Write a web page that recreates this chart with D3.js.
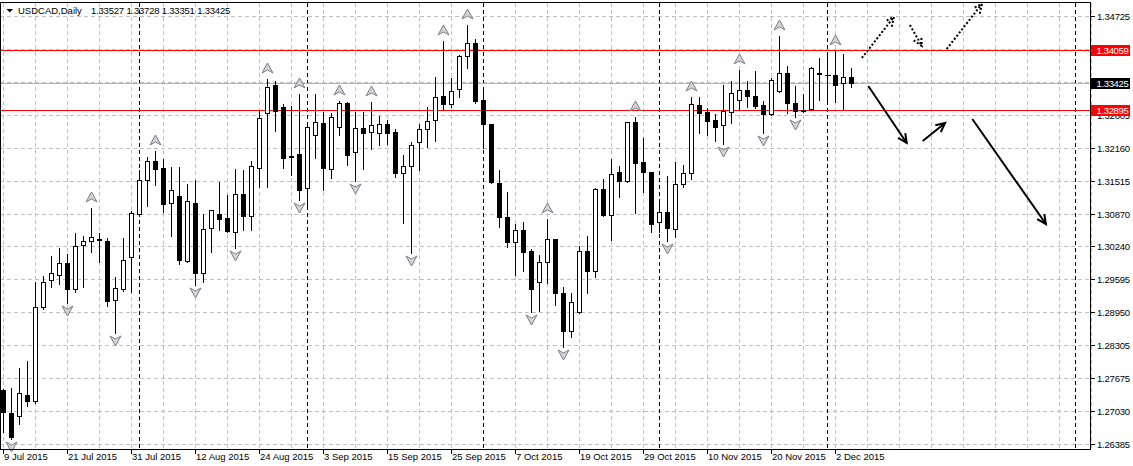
<!DOCTYPE html>
<html><head><meta charset="utf-8">
<script src="https://cdn.jsdelivr.net/npm/d3@7"></script>
<style>
html,body{margin:0;padding:0;background:#fff;}
svg{display:block;}
text{font-family:"Liberation Sans",Arial,sans-serif;font-size:9.5px;fill:#000;}
</style>
</head><body>
<svg id="c" width="1133" height="466"></svg>
<script>
// ---------------- DATA ----------------
const symbolTitle = "USDCAD,Daily";
const open = [1.27437,1.26990,1.26931,1.27340,1.27224,1.29055,1.29581,1.29679,1.29913,1.29406,
1.30263,1.30341,1.30380,1.30341,1.29191,1.29406,1.30030,1.30867,1.31529,1.31899,
1.31763,1.31082,1.31217,1.29951,1.31082,1.29718,1.30594,1.30867,1.30789,1.30516,
1.31256,1.30828,1.31763,1.32835,1.33381,1.32952,1.31997,1.32036,1.31373,1.32406,
1.32640,1.31744,1.32562,1.33030,1.32075,1.32542,1.32464,1.32445,1.32620,1.32464,
1.31666,1.31802,1.32270,1.32523,1.32698,1.33166,1.33010,1.33303,1.33946,1.34199,
1.33088,1.32620,1.31471,1.30809,1.30322,1.30555,1.30146,1.29542,1.29932,1.30380,
1.29328,1.28587,1.28957,1.30146,1.29756,1.31354,1.30848,1.31685,1.31510,1.32659,
1.31880,1.31685,1.30711,1.30906,1.30575,1.31451,1.31666,1.32991,1.32854,1.32698,
1.32601,1.32854,1.33088,1.33283,1.33166,1.32991,1.32815,1.33264,1.33615,1.33030,
1.32884,1.32913,1.33624,1.33576,1.33576,1.33420,1.33527];
const high = [1.27476,1.27496,1.27886,1.28022,1.29562,1.29679,1.30069,1.30225,1.30107,1.30516,
1.30458,1.31004,1.30516,1.30419,1.29659,1.30419,1.30945,1.31744,1.31997,1.32114,
1.31958,1.31802,1.31802,1.31471,1.31549,1.30887,1.30965,1.31510,1.31256,1.31763,
1.31744,1.31919,1.32893,1.33517,1.33478,1.33030,1.32991,1.33225,1.32659,1.33225,
1.32874,1.32854,1.33088,1.33069,1.32874,1.32874,1.33069,1.32796,1.32718,1.32542,
1.32036,1.32289,1.32640,1.32971,1.33556,1.34258,1.33537,1.33985,1.34569,1.34297,
1.33342,1.32640,1.31744,1.31315,1.30692,1.30731,1.30205,1.30088,1.30789,1.30400,
1.29464,1.29347,1.30263,1.30458,1.31393,1.31568,1.31958,1.31822,1.32679,1.32776,
1.32367,1.31705,1.31140,1.31627,1.31899,1.31841,1.33166,1.33166,1.32952,1.32835,
1.33400,1.33478,1.33693,1.33478,1.33673,1.33088,1.33537,1.34355,1.33770,1.33381,
1.33225,1.33751,1.33926,1.34004,1.34063,1.34004,1.33728];
const low = [1.26619,1.26483,1.26775,1.27126,1.27185,1.29016,1.29445,1.29503,1.29133,1.29347,
1.29445,1.30127,1.29932,1.29074,1.28548,1.29367,1.29347,1.30848,1.31023,1.31432,
1.30906,1.30439,1.29893,1.29932,1.29484,1.29542,1.30127,1.30555,1.30517,1.30205,
1.30555,1.30555,1.31393,1.31393,1.32484,1.31763,1.31627,1.31140,1.31004,1.31958,
1.31334,1.31568,1.32406,1.31822,1.31510,1.31744,1.32133,1.32211,1.32231,1.31588,
1.30692,1.30107,1.31724,1.32172,1.32289,1.32893,1.32952,1.33147,1.33712,1.33030,
1.32153,1.31471,1.30614,1.30225,1.29679,1.29756,1.28957,1.28977,1.29523,1.29094,
1.28275,1.28470,1.28938,1.29328,1.29640,1.30828,1.30361,1.31198,1.31490,1.30887,
1.31295,1.30516,1.30516,1.30341,1.30419,1.31393,1.31549,1.32445,1.32406,1.32289,
1.32231,1.32640,1.32893,1.32952,1.32932,1.32445,1.32796,1.33245,1.32835,1.32757,
1.32854,1.32893,1.33088,1.33049,1.33049,1.32893,1.33351];
const close = [1.27009,1.26522,1.27379,1.27224,1.29055,1.29542,1.29718,1.29913,1.29406,1.30244,
1.30341,1.30419,1.30361,1.29172,1.29425,1.29971,1.30887,1.31529,1.31899,1.31744,
1.31062,1.31334,1.29971,1.31121,1.29718,1.30575,1.30945,1.30770,1.30536,1.31256,
1.30828,1.31802,1.32737,1.33342,1.32874,1.31958,1.31968,1.31334,1.32562,1.32659,
1.31763,1.32757,1.33030,1.32016,1.32542,1.32445,1.32601,1.32620,1.32445,1.31666,
1.31802,1.32211,1.32523,1.32679,1.33147,1.33010,1.33264,1.33946,1.34199,1.33069,
1.32620,1.31490,1.30809,1.30322,1.30555,1.30127,1.29406,1.29932,1.30380,1.29328,
1.28587,1.29152,1.30146,1.29756,1.31354,1.30848,1.31646,1.31510,1.32659,1.31860,
1.31685,1.30672,1.30906,1.30594,1.31451,1.31666,1.33010,1.32835,1.32679,1.32562,
1.32874,1.33225,1.33283,1.33166,1.32971,1.32815,1.33478,1.33615,1.33030,1.32874,
1.32874,1.33712,1.33595,1.33566,1.33381,1.33537,1.33425];

// bar index of each date label on the time axis
const dateTickIndex = [0,8,16,24,32,40,48,56,64,72,80,88,96,104];
const dateTickLabels = ["9 Jul 2015","21 Jul 2015","31 Jul 2015","12 Aug 2015","24 Aug 2015","3 Sep 2015",
  "15 Sep 2015","25 Sep 2015","7 Oct 2015","19 Oct 2015","29 Oct 2015","10 Nov 2015","20 Nov 2015","2 Dec 2015"];
// month separators (bar index of first bar of each month)
const monthSeparators = [17,38,60,82,103,134];
// price grid levels and their labels (1.34080 / 1.33440 are hidden under level labels)
const priceGrid = [1.34725,1.34080,1.33440,1.32805,1.32160,1.31515,1.30870,
  1.30240,1.29595,1.28950,1.28305,1.27675,1.27030,1.26385];
const priceTickLabels = ["1.34725","1.32805","1.32160","1.31515","1.30870",
  "1.30240","1.29595","1.28950","1.28305","1.27675","1.27030","1.26385"];
// fractal markers
const fractalUp = [11,19,33,37,42,46,55,58,68,79,86,92,97,104];
const fractalDown = [1,8,14,24,29,37,44,51,66,70,83,90,95,99];
// horizontal levels
const resistance = 1.34059;
const support = 1.32895;
const bid = 1.33425;
// scenario arrows (bar index, price)
const scenarioArrows = [
  {i1:107.3,p1:1.33907,i2:111.3,p2:1.34706,dotted:true},
  {i1:113.3,p1:1.34550,i2:114.8,p2:1.34141,dotted:true},
  {i1:117.9,p1:1.34082,i2:122.3,p2:1.34959,dotted:true},
  {i1:108.1,p1:1.33361,i2:112.9,p2:1.32251,dotted:false},
  {i1:114.9,p1:1.32290,i2:117.7,p2:1.32640,dotted:false},
  {i1:121.1,p1:1.32718,i2:130.3,p2:1.30672,dotted:false}
];

// ---------------- DRAW ----------------
const W = 1133, H = 466;
const R = 1090.5, T = 2.5, B = 449.5;
const svg = d3.select("#c");
svg.append("rect").attr("width", W).attr("height", H).attr("fill", "#fff");

const x = d3.scaleLinear().domain([0, 134]).range([3.5, 1075.5]);
const y = d3.scaleLinear().domain([1.26385, 1.34725]).range([444, 16]);
const py = v => Math.round(y(v)) + 0.5;

const grid = svg.append("g").attr("shape-rendering", "crispEdges");
grid.selectAll("line.hg").data(priceGrid).join("line")
  .attr("x1", 0).attr("x2", R).attr("y1", d => py(d)).attr("y2", d => py(d))
  .attr("stroke", "#c0c0c0").attr("stroke-dasharray", "4,3");
grid.selectAll("line.vg").data(d3.range(0, 137, 4)).join("line")
  .attr("x1", d => x(d)).attr("x2", d => x(d)).attr("y1", T).attr("y2", B)
  .attr("stroke", "#c0c0c0").attr("stroke-dasharray", "4,3");
grid.selectAll("line.sep").data(monthSeparators).join("line")
  .attr("x1", d => x(d)).attr("x2", d => x(d)).attr("y1", T).attr("y2", B)
  .attr("stroke", "#000").attr("stroke-dasharray", "4,3");

// levels
const lv = svg.append("g").attr("shape-rendering", "crispEdges");
lv.append("line").attr("x1", 0).attr("x2", R).attr("y1", py(bid)).attr("y2", py(bid)).attr("stroke", "#b4b4b4");
[resistance, support].forEach(v => {
  lv.append("line").attr("x1", 0).attr("x2", R).attr("y1", py(v)).attr("y2", py(v)).attr("stroke", "#ff0000");
});

// candles
const bars = open.map((o, i) => ({i, o, h: high[i], l: low[i], c: close[i]}));
const cg = svg.append("g").attr("shape-rendering", "crispEdges");
cg.selectAll("line.wick").data(bars).join("line")
  .attr("x1", d => x(d.i)).attr("x2", d => x(d.i))
  .attr("y1", d => py(d.h)).attr("y2", d => py(d.l))
  .attr("stroke", "#000");
const bodyTop = d => py(Math.max(d.o, d.c));
const bodyBot = d => py(Math.min(d.o, d.c));
cg.selectAll("rect.body").data(bars.filter(d => bodyBot(d) - bodyTop(d) >= 1)).join("rect")
  .attr("x", d => x(d.i) - 2).attr("width", 4)
  .attr("y", bodyTop).attr("height", d => bodyBot(d) - bodyTop(d))
  .attr("fill", d => d.c >= d.o ? "#fff" : "#000").attr("stroke", "#000");
cg.selectAll("line.doji").data(bars.filter(d => bodyBot(d) - bodyTop(d) < 1)).join("line")
  .attr("x1", d => x(d.i) - 2.5).attr("x2", d => x(d.i) + 3)
  .attr("y1", bodyTop).attr("y2", bodyTop).attr("stroke", "#000");

// fractals
const fg = svg.append("g");
const upPath = "M0,-5 L5.5,5 L0,2 L-5.5,5 Z";
const dnPath = "M0,5 L5.5,-5 L0,-2 L-5.5,-5 Z";
fg.selectAll("path.fu").data(fractalUp).join("path")
  .attr("d", upPath)
  .attr("transform", d => `translate(${x(d)},${y(high[d]) - 10})`)
  .attr("fill", "#d4d4d8").attr("stroke", "#7c7c84").attr("stroke-width", 1);
fg.selectAll("path.fd").data(fractalDown).join("path")
  .attr("d", dnPath)
  .attr("transform", d => `translate(${x(d)},${y(low[d]) + 8})`)
  .attr("fill", "#d4d4d8").attr("stroke", "#7c7c84").attr("stroke-width", 1);

// scenario arrows
const ag = svg.append("g").attr("stroke", "#000").attr("stroke-width", 2).attr("fill", "none");
scenarioArrows.forEach(a => {
  const x1 = x(a.i1), y1 = y(a.p1), x2 = x(a.i2), y2 = y(a.p2);
  ag.append("line").attr("x1", x1).attr("y1", y1).attr("x2", x2).attr("y2", y2)
    .attr("stroke-dasharray", a.dotted ? "2,2" : null);
  const th = Math.atan2(y2 - y1, x2 - x1), L = 10, sp = 0.45;
  const hp = [[x2 - L * Math.cos(th - sp), y2 - L * Math.sin(th - sp)], [x2, y2],
              [x2 - L * Math.cos(th + sp), y2 - L * Math.sin(th + sp)]];
  ag.append("path").attr("d", d3.line()(hp))
    .attr("stroke-dasharray", a.dotted ? "2,2" : null);
});

// frame
const fr = svg.append("g").attr("shape-rendering", "crispEdges").attr("stroke", "#000");
fr.append("line").attr("x1", 0).attr("x2", R).attr("y1", T).attr("y2", T);
fr.append("line").attr("x1", 0).attr("x2", R).attr("y1", B).attr("y2", B);
fr.append("line").attr("x1", R).attr("x2", R).attr("y1", T).attr("y2", B);
fr.append("line").attr("x1", 0.5).attr("x2", 0.5).attr("y1", T).attr("y2", B);

// right axis ticks + labels
fr.selectAll("line.rt").data(priceGrid).join("line")
  .attr("x1", R).attr("x2", R + 4).attr("y1", d => py(d)).attr("y2", d => py(d));
// clip so the label partly covered by the support box shows only its visible part
svg.append("clipPath").attr("id", "belowSupport").append("rect")
  .attr("x", 1090).attr("y", py(support) + 5).attr("width", 43).attr("height", 20);
svg.append("g").selectAll("text").data(priceTickLabels).join("text")
  .attr("x", 1097).attr("y", d => py(+d) + 3.5).attr("letter-spacing", "-0.2px")
  .attr("clip-path", d => Math.abs(py(+d) - py(support)) < 8 ? "url(#belowSupport)" : null)
  .text(d => d);

// level labels
const lab = svg.append("g").attr("shape-rendering", "crispEdges");
[[resistance, "#ff0000"], [bid, "#000000"], [support, "#ff0000"]].forEach(([v, col]) => {
  lab.append("rect").attr("x", 1091).attr("y", py(v) - 5.5).attr("width", 39).attr("height", 11).attr("fill", col);
  lab.append("text").attr("x", 1096.5).attr("y", py(v) + 3.5).attr("letter-spacing", "-0.35px")
    .style("fill", "#fff").text(v.toFixed(5));
});

// bottom axis ticks + labels
fr.selectAll("line.bt").data(dateTickIndex).join("line")
  .attr("x1", d => x(d)).attr("x2", d => x(d)).attr("y1", B).attr("y2", B + 4);
svg.append("g").selectAll("text").data(dateTickLabels).join("text")
  .attr("x", (d, k) => x(dateTickIndex[k]) + 0.5).attr("y", 460).text(d => d);

// title
const last = open.length - 1;
svg.append("path").attr("d", "M6.5,9 L13,9 L9.75,12.5 Z").attr("fill", "#000");
svg.append("text").attr("x", 18).attr("y", 14).text(symbolTitle);
svg.append("text").attr("x", 91).attr("y", 14).attr("letter-spacing", "-0.2px")
  .text([open[last], high[last], low[last], close[last]].map(v => v.toFixed(5)).join(" "));
</script>
</body></html>
